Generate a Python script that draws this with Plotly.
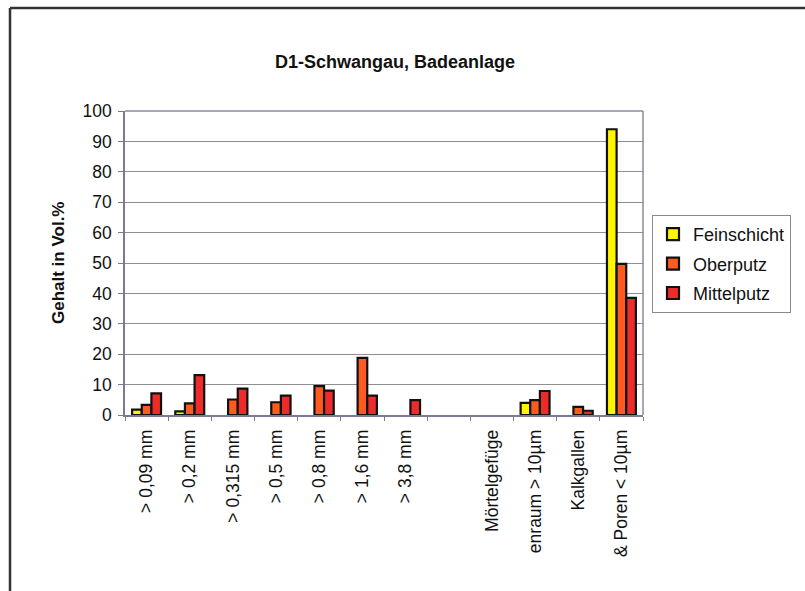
import plotly.graph_objects as go

# Categories (grain-size classes and structural components)
categories = [
    "> 0,09 mm", "> 0,2 mm", "> 0,315 mm", "> 0,5 mm", "> 0,8 mm",
    "> 1,6 mm", "> 3,8 mm", " ", "Mörtelgefüge", "enraum > 10µm",
    "Kalkgallen", "& Poren < 10µm",
]

# Volume percentages per layer (None = not present)
feinschicht = [1.8, 1.2, None, None, None, None, None, None, None, 4.0, None, 94.0]
oberputz = [3.3, 3.8, 5.1, 4.2, 9.5, 18.8, None, None, None, 4.9, 2.7, 49.7]
mittelputz = [7.1, 13.1, 8.7, 6.4, 8.0, 6.4, 4.9, None, None, 7.9, 1.4, 38.5]

series = [
    ("Feinschicht", feinschicht, "#FFF500"),
    ("Oberputz", oberputz, "#FF5A1F"),
    ("Mittelputz", mittelputz, "#EE2B2B"),
]

FONT = "Liberation Sans, Arial, sans-serif"
W, H = 805, 591
L, R, T, B = 125, 643, 111, 415  # plot area in pixels

fig = go.Figure()
for name, vals, col in series:
    fig.add_trace(go.Bar(
        x=categories, y=vals, name=name, legendgroup=name,
        marker=dict(color=col, line=dict(color="#111111", width=2.2)),
    ))

def px_x(p):
    return (p - L) / (R - L)

def px_y(p):
    return (B - p) / (B - T)

fig.update_layout(
    width=W, height=H,
    margin=dict(l=L, r=W - R, t=T, b=H - B),
    paper_bgcolor="white", plot_bgcolor="white",
    barmode="group", bargap=0.33, bargroupgap=0,
    font=dict(family=FONT, size=17, color="#111111"),
    title=dict(
        text="<b>D1-Schwangau, Badeanlage</b>",
        x=395 / W, xref="container", xanchor="center",
        y=1 - 62 / H, yref="container", yanchor="middle",
        font=dict(size=18, family=FONT, color="#111111"),
    ),
    showlegend=True,
    legend=dict(
        x=px_x(652), y=px_y(215), xanchor="left", yanchor="top",
        bordercolor="#8a8a8a", borderwidth=1, bgcolor="white",
        font=dict(size=18, family=FONT, color="#111111"),
        tracegroupgap=3, itemclick=False, itemwidth=30,
    ),
    xaxis=dict(
        type="category", categoryorder="array", categoryarray=categories,
        tickangle=-90, tickson="boundaries", ticks="outside", ticklen=4,
        tickcolor="#7a7a95", showline=True, linecolor="#7a7a95", linewidth=1.5,
        mirror=False, showgrid=False, ticklabelstandoff=6,
        tickfont=dict(size=17.5, family=FONT, color="#111111"),
    ),
    yaxis=dict(
        range=[0, 100], dtick=10, tick0=0, ticks="outside", ticklen=5,
        tickcolor="#7a7a95", showline=True, linecolor="#7a7a95", linewidth=1.5,
        showgrid=True, gridcolor="#8f8f8f", gridwidth=1,
        zeroline=False, tickfont=dict(size=17.5, family=FONT, color="#111111"),
        ticklabelstandoff=3,
    ),
    annotations=[
        dict(
            text="<b>Gehalt in Vol.%</b>", textangle=-90,
            x=px_x(58), y=0.5, xref="paper", yref="paper",
            xanchor="center", yanchor="middle", showarrow=False,
            font=dict(size=17, family=FONT, color="#111111"),
        )
    ],
    shapes=[
        # plot area border on top and right
        dict(type="line", xref="paper", yref="paper", x0=0, x1=1, y0=1, y1=1,
             line=dict(color="#8a8aa0", width=1.5)),
        dict(type="line", xref="paper", yref="paper", x0=1, x1=1, y0=0, y1=1,
             line=dict(color="#8a8aa0", width=1.5)),
        # outer chart frame (top and left edges)
        dict(type="line", xref="paper", yref="paper",
             x0=px_x(10), x1=px_x(W + 5), y0=px_y(8), y1=px_y(8),
             line=dict(color="#333333", width=2.5)),
        dict(type="line", xref="paper", yref="paper",
             x0=px_x(10), x1=px_x(10), y0=px_y(8), y1=px_y(H + 5),
             line=dict(color="#333333", width=2.5)),
    ],
)

fig.write_html("out.html")
